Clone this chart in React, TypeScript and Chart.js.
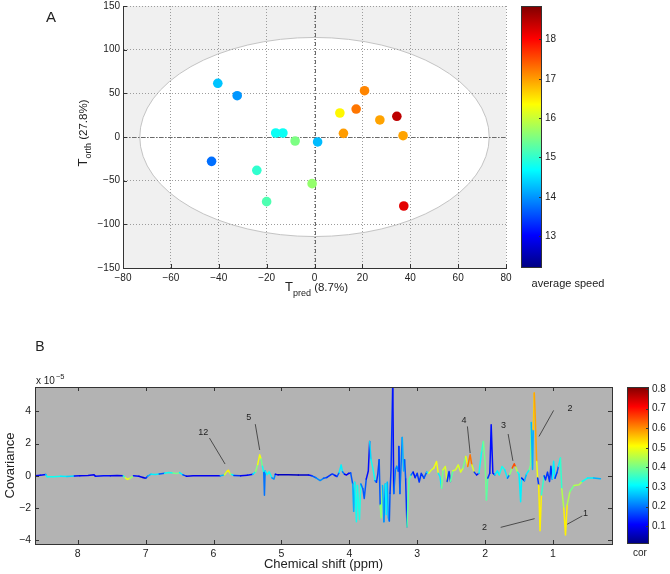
import React, { useEffect, useRef } from "react";
import { Chart, registerables } from "chart.js";

Chart.register(...registerables);

const FONT = "'Liberation Sans', Arial, Helvetica, sans-serif";
const TEXT = "#222222";

// ---------------- Panel A : OPLS scores ----------------
const tPred = [-40.4, -32.3, -43.0, -24.1, -20.0, -16.2, -13.2, -8.1, -1.0, 1.3, 10.6, 12.1, 17.4, 20.9, 27.3, 34.4, 37.0, 37.3];
const tOrth = [61.5, 47.3, -27.9, -38.2, -74.0, 4.6, 4.6, -4.6, -53.4, -5.7, 27.5, 4.2, 32.0, 53.0, 19.5, 23.7, 1.5, -79.0];
const avgSpeed = [14.3, 14.0, 13.75, 15.0, 15.2, 14.75, 14.75, 15.5, 15.65, 14.25, 16.4, 17.0, 17.25, 17.15, 16.95, 18.45, 16.95, 18.2];
const xTicksA = [-80, -60, -40, -20, 0, 20, 40, 60, 80];
const yTicksA = [-150, -100, -50, 0, 50, 100, 150];
const speedTicks = [13, 14, 15, 16, 17, 18];
const speedRange = [12.19, 18.85];
const ellipseAxes = [73, 114];

// ---------------- Panel B : covariance spectrum ----------------
const shiftPpm = [
  8.63, 8.55, 8.47, 8.45, 8.35, 8.25, 8.16, 8.05, 7.97, 7.85, 7.76, 7.74, 7.62, 7.52, 7.42, 7.33, 7.30, 7.27, 7.23, 7.18,
  7.10, 7.04, 7.00, 6.97, 6.92, 6.86, 6.80, 6.72, 6.66, 6.60, 6.54, 6.50, 6.45, 6.40, 6.30, 6.20, 6.10, 6.00, 5.90, 5.84,
  5.80, 5.78, 5.76, 5.73, 5.70, 5.60, 5.50, 5.42, 5.38, 5.35, 5.32, 5.30, 5.28, 5.26, 5.25, 5.24, 5.21, 5.18, 5.14, 5.11,
  5.09, 5.05, 4.90, 4.75, 4.60, 4.55, 4.49, 4.43, 4.38, 4.33, 4.28, 4.25, 4.21, 4.18, 4.15, 4.12, 4.10, 4.07, 4.04, 4.01,
  3.98, 3.95, 3.935, 3.92, 3.895, 3.88, 3.85, 3.83, 3.80, 3.78, 3.75, 3.72, 3.70, 3.68, 3.65, 3.62, 3.60, 3.58, 3.56, 3.545,
  3.53, 3.51, 3.49, 3.47, 3.455, 3.44, 3.425, 3.41, 3.40, 3.385, 3.36, 3.345, 3.32, 3.30, 3.28, 3.27, 3.255, 3.24, 3.22, 3.20,
  3.185, 3.17, 3.15, 3.12, 3.09, 3.06, 3.03, 3.00, 2.97, 2.94, 2.90, 2.86, 2.83, 2.79, 2.755, 2.715, 2.69, 2.665, 2.64, 2.62,
  2.585, 2.56, 2.53, 2.51, 2.475, 2.435, 2.395, 2.36, 2.325, 2.285, 2.255, 2.22, 2.195, 2.16, 2.125, 2.09, 2.05, 2.025, 2.00, 1.98,
  1.96, 1.93, 1.91, 1.885, 1.855, 1.82, 1.79, 1.75, 1.71, 1.67, 1.64, 1.60, 1.57, 1.55, 1.52, 1.50, 1.476, 1.46, 1.42, 1.39,
  1.35, 1.33, 1.32, 1.30, 1.29, 1.275, 1.26, 1.24, 1.225, 1.21, 1.19, 1.17, 1.13, 1.11, 1.08, 1.05, 1.03, 1.01, 0.99, 0.97,
  0.94, 0.92, 0.89, 0.87, 0.84, 0.815, 0.79, 0.75, 0.69, 0.615, 0.57, 0.49, 0.40, 0.30,
];
// covariance in units of 1e-5
const covariance = [
  0.00, 0.03, 0.08, -0.06, -0.05, -0.03, -0.04, -0.01, 0.00, 0.02, 0.07, -0.03, 0.01, 0.00, 0.02, 0.00, -0.12, -0.22, -0.15, 0.00,
  -0.02, -0.10, -0.15, -0.02, 0.10, 0.08, 0.12, 0.16, 0.21, 0.18, 0.15, 0.20, 0.06, -0.02, 0.00, 0.00, 0.01, 0.00, 0.01, 0.05,
  0.28, 0.35, 0.15, 0.08, 0.02, 0.00, 0.03, 0.10, 0.25, 0.70, 1.30, 1.05, 0.60, 0.20, -1.20, 0.30, 0.08, 0.25, -0.12, -0.20,
  0.10, 0.06, 0.06, 0.05, 0.05, 0.00, -0.12, -0.29, -0.15, -0.10, 0.05, 0.12, 0.02, -0.04, 0.20, 0.68, 0.25, 0.10, 0.05, 0.15,
  0.18, -0.50, -2.20, -0.40, -2.84, -0.60, -2.70, -0.50, -0.80, -1.40, -0.20, 0.30, 2.13, 1.00, 0.40, -0.30, -0.40, 0.10, 1.00, -1.80,
  -2.60, -0.60, -2.84, -0.50, -2.40, -0.40, -2.60, -2.80, -1.08, 0.40, 5.80, -1.10, 0.40, 0.60, 0.30, 1.82, -1.10, 0.40, 2.38, 0.30,
  1.00, -0.20, -3.15, -0.25, 0.05, 0.23, -0.11, 0.16, -0.39, 0.16, -0.14, 0.23, 0.16, 0.37, 0.48, 0.89, 0.16, -0.04, -0.77, 0.37,
  0.58, -0.35, 0.27, -0.35, 0.31, 0.37, 0.68, 0.23, 0.48, 1.20, 0.58, 1.30, 0.68, 0.23, 0.06, 0.16, 1.51, 2.13, 0.89, -1.50,
  -0.14, 0.16, 3.17, 0.16, 0.06, 0.31, 0.06, 0.58, 0.37, -0.14, 0.06, 0.48, 0.75, 0.55, 0.23, 0.10, -1.60, -0.14, -0.30, 0.10,
  0.37, 0.68, 3.30, 0.40, 2.86, 5.13, 3.60, 0.89, -0.14, -0.56, -3.40, -1.18, 0.00, -0.25, 0.23, -0.35, 0.60, -0.20, 0.90, -0.15,
  0.20, 0.58, 1.10, -0.80, -2.00, -3.66, -1.80, -0.97, -0.60, -0.55, -0.35, -0.14, -0.14, -0.18,
];
const correlation = [
  0.08, 0.10, 0.12, 0.30, 0.32, 0.30, 0.28, 0.12, 0.08, 0.10, 0.08, 0.10, 0.12, 0.10, 0.08, 0.10, 0.35, 0.50, 0.42, 0.12,
  0.10, 0.06, 0.08, 0.15, 0.25, 0.30, 0.12, 0.18, 0.32, 0.28, 0.40, 0.30, 0.15, 0.08, 0.10, 0.08, 0.10, 0.08, 0.10, 0.25,
  0.48, 0.52, 0.42, 0.30, 0.15, 0.10, 0.10, 0.12, 0.30, 0.42, 0.50, 0.40, 0.32, 0.20, 0.12, 0.20, 0.30, 0.32, 0.20, 0.22,
  0.10, 0.06, 0.06, 0.06, 0.07, 0.12, 0.18, 0.22, 0.18, 0.15, 0.12, 0.15, 0.12, 0.10, 0.18, 0.30, 0.20, 0.10, 0.08, 0.10,
  0.12, 0.18, 0.25, 0.20, 0.32, 0.25, 0.33, 0.20, 0.15, 0.18, 0.12, 0.10, 0.12, 0.28, 0.32, 0.20, 0.15, 0.12, 0.15, 0.18,
  0.42, 0.25, 0.22, 0.18, 0.30, 0.22, 0.25, 0.18, 0.12, 0.15, 0.10, 0.12, 0.20, 0.22, 0.18, 0.15, 0.12, 0.20, 0.15, 0.25,
  0.18, 0.15, 0.12, 0.38, 0.20, 0.12, 0.10, 0.15, 0.15, 0.12, 0.15, 0.18, 0.30, 0.48, 0.40, 0.50, 0.30, 0.15, 0.30, 0.40,
  0.48, 0.15, 0.15, 0.15, 0.38, 0.48, 0.32, 0.48, 0.40, 0.32, 0.50, 0.62, 0.48, 0.15, 0.06, 0.12, 0.32, 0.35, 0.40, 0.38,
  0.15, 0.12, 0.12, 0.12, 0.05, 0.30, 0.10, 0.32, 0.30, 0.15, 0.20, 0.42, 0.65, 0.45, 0.32, 0.15, 0.30, 0.12, 0.08, 0.25,
  0.30, 0.40, 0.15, 0.25, 0.18, 0.55, 0.58, 0.50, 0.15, 0.06, 0.52, 0.35, 0.15, 0.08, 0.15, 0.06, 0.15, 0.08, 0.30, 0.08,
  0.15, 0.18, 0.30, 0.35, 0.45, 0.52, 0.45, 0.32, 0.40, 0.45, 0.32, 0.30, 0.25, 0.22,
];
const shiftTicks = [1, 2, 3, 4, 5, 6, 7, 8];
const covTicks = [-4, -2, 0, 2, 4];
const corTicks = [0.1, 0.2, 0.3, 0.4, 0.5, 0.6, 0.7, 0.8];
const shiftRange = [0.13, 8.63];
const covRange = [-4.22, 5.5];
const corRange = [0.01, 0.81];

// peak annotations
const annLabels = ["12", "5", "4", "3", "2", "2", "1"];
const annTextPpm = [6.15, 5.48, 2.31, 1.73, 2.01, 0.75, 0.52];
const annTextCov = [2.7, 3.58, 3.42, 3.1, -3.17, 4.18, -2.34];
const annFromPpm = [6.06, 5.385, 2.26, 1.66, 1.77, 0.99, 0.567];
const annFromCov = [2.34, 3.2, 3.06, 2.59, -3.19, 4.05, -2.48];
const annToPpm = [5.83, 5.32, 2.22, 1.59, 1.27, 1.205, 0.79];
const annToCov = [0.73, 1.6, 1.41, 0.93, -2.65, 2.44, -3.0];

// ---------------- helpers ----------------
function jet(t: number): string {
  const tt = Math.max(0, Math.min(1, t));
  const c = (v: number) => Math.round(255 * Math.max(0, Math.min(1, v)));
  return `rgb(${c(1.5 - Math.abs(4 * tt - 3))},${c(1.5 - Math.abs(4 * tt - 2))},${c(1.5 - Math.abs(4 * tt - 1))})`;
}
const fmtNum = (v: number) => (v < 0 ? "\u2212" + Math.abs(v) : String(v));

type Part = { text: string; size: number; dy?: number };
function drawRich(ctx: CanvasRenderingContext2D, parts: Part[], x: number, y: number, rotate: boolean) {
  ctx.save();
  ctx.translate(x, y);
  if (rotate) ctx.rotate(-Math.PI / 2);
  const widths = parts.map((p) => {
    ctx.font = `${p.size}px ${FONT}`;
    return ctx.measureText(p.text).width;
  });
  const total = widths.reduce((a, b) => a + b, 0);
  let cx = -total / 2;
  ctx.textAlign = "left";
  ctx.textBaseline = "alphabetic";
  ctx.fillStyle = TEXT;
  parts.forEach((p, i) => {
    ctx.font = `${p.size}px ${FONT}`;
    ctx.fillText(p.text, cx, p.dy || 0);
    cx += widths[i];
  });
  ctx.restore();
}

function drawColorbar(chart: any, offset: number, width: number) {
  const { ctx, chartArea: a } = chart;
  const cb = chart.scales.cb;
  const x0 = Math.round(a.right + offset);
  const top = a.top;
  const bottom = a.bottom;
  ctx.save();
  const g = ctx.createLinearGradient(0, bottom, 0, top);
  for (let i = 0; i <= 40; i++) g.addColorStop(i / 40, jet(i / 40));
  ctx.fillStyle = g;
  ctx.fillRect(x0, top, width, bottom - top);
  ctx.strokeStyle = "#333";
  ctx.lineWidth = 1;
  ctx.strokeRect(x0 + 0.5, top + 0.5, width - 1, bottom - top - 1);
  cb.ticks.forEach((t: any) => {
    const py = Math.round(cb.getPixelForValue(t.value)) + 0.5;
    ctx.beginPath();
    ctx.moveTo(x0 + width - 3, py);
    ctx.lineTo(x0 + width, py);
    ctx.stroke();
  });
  ctx.restore();
}

const tickFont = (size: number) => ({ family: FONT, size });
const noPad = (s: any) => {
  s.paddingTop = 0;
  s.paddingBottom = 0;
};

// ---------------- Panel A config ----------------
function configA(): any {
  const plugin = {
    id: "panelA",
    beforeDraw(chart: any) {
      const { ctx, chartArea: a, scales } = chart;
      const x = scales.x;
      const y = scales.y;
      ctx.save();
      ctx.fillStyle = "#f0f0f0";
      ctx.fillRect(a.left, a.top, a.right - a.left, a.bottom - a.top);
      const cx = x.getPixelForValue(0);
      const cy = y.getPixelForValue(0);
      const rx = Math.abs(x.getPixelForValue(ellipseAxes[0]) - cx);
      const ry = Math.abs(y.getPixelForValue(ellipseAxes[1]) - cy);
      ctx.beginPath();
      ctx.ellipse(cx, cy, rx, ry, 0, 0, Math.PI * 2);
      ctx.fillStyle = "#ffffff";
      ctx.fill();
      ctx.strokeStyle = "#c4c4c4";
      ctx.lineWidth = 1;
      ctx.stroke();
      ctx.restore();
    },
    beforeDatasetsDraw(chart: any) {
      const { ctx, chartArea: a, scales } = chart;
      const x = scales.x;
      const y = scales.y;
      ctx.save();
      ctx.strokeStyle = "#6a6a6a";
      ctx.lineWidth = 1;
      ctx.setLineDash([4, 2, 1, 2]);
      const zx = Math.round(x.getPixelForValue(0)) + 0.5;
      const zy = Math.round(y.getPixelForValue(0)) + 0.5;
      ctx.beginPath();
      ctx.moveTo(zx, a.top);
      ctx.lineTo(zx, a.bottom);
      ctx.moveTo(a.left, zy);
      ctx.lineTo(a.right, zy);
      ctx.stroke();
      ctx.setLineDash([]);
      ctx.strokeStyle = "#333";
      ctx.beginPath();
      x.ticks.forEach((t: any) => {
        const px = Math.round(x.getPixelForValue(t.value)) + 0.5;
        ctx.moveTo(px, a.bottom);
        ctx.lineTo(px, a.bottom - 4);
      });
      y.ticks.forEach((t: any) => {
        const py = Math.round(y.getPixelForValue(t.value)) + 0.5;
        ctx.moveTo(a.left, py);
        ctx.lineTo(a.left + 4, py);
      });
      ctx.stroke();
      ctx.restore();
    },
    afterDraw(chart: any) {
      const { ctx, chartArea: a } = chart;
      drawColorbar(chart, 15, 21);
      ctx.save();
      ctx.fillStyle = TEXT;
      ctx.font = `15px ${FONT}`;
      ctx.textAlign = "center";
      ctx.textBaseline = "middle";
      ctx.fillText("A", 51, 18);
      ctx.font = `11px ${FONT}`;
      ctx.fillText("average speed", a.right + 62, 284);
      ctx.restore();
      drawRich(ctx, [
        { text: "T", size: 13 },
        { text: "orth", size: 9, dy: 4 },
        { text: " (27.8%)", size: 11.5 },
      ], 87, (a.top + a.bottom) / 2 - 4, true);
      drawRich(ctx, [
        { text: "T", size: 13 },
        { text: "pred", size: 9, dy: 5 },
        { text: " (8.7%)", size: 11.5 },
      ], (a.left + a.right) / 2 + 2, 291, false);
    },
  };

  return {
    type: "scatter",
    data: {
      datasets: [
        {
          data: tPred.map((v, i) => ({ x: v, y: tOrth[i] })),
          pointRadius: 4.8,
          pointHoverRadius: 4.8,
          pointBorderWidth: 0,
          pointBackgroundColor: avgSpeed.map((s) => jet((s - speedRange[0]) / (speedRange[1] - speedRange[0]))),
        },
      ],
    },
    options: {
      animation: false,
      responsive: false,
      maintainAspectRatio: false,
      devicePixelRatio: 1,
      events: [],
      layout: { padding: { left: 0, right: 0, top: 6, bottom: 0 } },
      plugins: { legend: { display: false }, tooltip: { enabled: false } },
      scales: {
        x: {
          type: "linear",
          min: xTicksA[0],
          max: xTicksA[xTicksA.length - 1],
          afterBuildTicks: (s: any) => { s.ticks = xTicksA.map((v) => ({ value: v })); },
          afterFit: (s: any) => { s.height = 32; s.paddingLeft = 0; s.paddingRight = 0; },
          grid: { color: "#9c9c9c", lineWidth: 1, drawTicks: false },
          border: { display: true, color: "#333", width: 1, dash: [1, 2] },
          ticks: { padding: 4, color: TEXT, font: tickFont(10), autoSkip: false, maxRotation: 0, callback: (v: number) => fmtNum(v) },
        },
        y: {
          type: "linear",
          min: yTicksA[0],
          max: yTicksA[yTicksA.length - 1],
          afterBuildTicks: (s: any) => { s.ticks = yTicksA.map((v) => ({ value: v })); },
          afterFit: (s: any) => { s.width = 123; noPad(s); },
          grid: { color: "#9c9c9c", lineWidth: 1, drawTicks: false },
          border: { display: true, color: "#333", width: 1, dash: [1, 2] },
          ticks: { padding: 3, color: TEXT, font: tickFont(10), autoSkip: false, callback: (v: number) => fmtNum(v) },
        },
        cb: {
          type: "linear",
          position: "right",
          min: speedRange[0],
          max: speedRange[1],
          afterBuildTicks: (s: any) => { s.ticks = speedTicks.map((v) => ({ value: v })); },
          afterFit: (s: any) => { s.width = 164; noPad(s); },
          grid: { display: false, drawTicks: false },
          border: { display: false },
          ticks: { padding: 39, color: TEXT, font: tickFont(10), autoSkip: false, callback: (v: number) => String(v) },
        },
      },
    },
    plugins: [plugin],
  };
}

// ---------------- Panel B config ----------------
function configB(): any {
  const corT = (c: number) => (c - corRange[0]) / (corRange[1] - corRange[0]);
  const plugin = {
    id: "panelB",
    beforeDraw(chart: any) {
      const { ctx, chartArea: a } = chart;
      ctx.save();
      ctx.fillStyle = "#b3b3b3";
      ctx.fillRect(a.left, a.top, a.right - a.left, a.bottom - a.top);
      ctx.restore();
    },
    afterDatasetsDraw(chart: any) {
      const { ctx, chartArea: a, scales } = chart;
      const x = scales.x;
      const y = scales.y;
      ctx.save();
      ctx.strokeStyle = "#333";
      ctx.lineWidth = 1;
      ctx.strokeRect(Math.round(a.left) + 0.5, Math.round(a.top) + 0.5, Math.round(a.right - a.left), Math.round(a.bottom - a.top));
      ctx.beginPath();
      x.ticks.forEach((t: any) => {
        const px = Math.round(x.getPixelForValue(t.value)) + 0.5;
        ctx.moveTo(px, a.bottom);
        ctx.lineTo(px, a.bottom - 4);
        ctx.moveTo(px, a.top);
        ctx.lineTo(px, a.top + 4);
      });
      y.ticks.forEach((t: any) => {
        const py = Math.round(y.getPixelForValue(t.value)) + 0.5;
        ctx.moveTo(a.left, py);
        ctx.lineTo(a.left + 4, py);
        ctx.moveTo(a.right, py);
        ctx.lineTo(a.right - 4, py);
      });
      ctx.stroke();

      // annotations
      ctx.strokeStyle = "#303030";
      ctx.lineWidth = 0.8;
      ctx.beginPath();
      annLabels.forEach((_, i) => {
        ctx.moveTo(x.getPixelForValue(annFromPpm[i]), y.getPixelForValue(annFromCov[i]));
        ctx.lineTo(x.getPixelForValue(annToPpm[i]), y.getPixelForValue(annToCov[i]));
      });
      ctx.stroke();
      ctx.fillStyle = TEXT;
      ctx.font = `9px ${FONT}`;
      ctx.textAlign = "center";
      ctx.textBaseline = "middle";
      annLabels.forEach((lab, i) => {
        ctx.fillText(lab, x.getPixelForValue(annTextPpm[i]), y.getPixelForValue(annTextCov[i]));
      });
      ctx.restore();
    },
    afterDraw(chart: any) {
      const { ctx, chartArea: a } = chart;
      drawColorbar(chart, 15, 22);
      ctx.save();
      ctx.fillStyle = TEXT;
      ctx.textAlign = "center";
      ctx.textBaseline = "middle";
      ctx.font = `14px ${FONT}`;
      ctx.fillText("B", 40, 17);
      ctx.font = `10px ${FONT}`;
      ctx.fillText("cor", a.right + 28, a.bottom + 9);
      ctx.font = `13px ${FONT}`;
      ctx.fillText("Chemical shift (ppm)", (a.left + a.right) / 2, a.bottom + 20);
      ctx.translate(10, (a.top + a.bottom) / 2);
      ctx.rotate(-Math.PI / 2);
      ctx.fillText("Covariance", 0, 0);
      ctx.restore();
      ctx.save();
      ctx.fillStyle = TEXT;
      ctx.textAlign = "left";
      ctx.textBaseline = "alphabetic";
      ctx.font = `10px ${FONT}`;
      ctx.fillText("x 10", 36, a.top - 3);
      const w = ctx.measureText("x 10").width;
      ctx.font = `7.5px ${FONT}`;
      ctx.fillText("\u22125", 36 + w + 1, a.top - 8);
      ctx.restore();
    },
  };

  return {
    type: "line",
    data: {
      datasets: [
        {
          data: shiftPpm.map((v, i) => ({ x: v, y: covariance[i] })),
          borderWidth: 1.5,
          borderColor: jet(0.1),
          borderJoinStyle: "round",
          borderCapStyle: "round",
          pointRadius: 0,
          pointHoverRadius: 0,
          tension: 0,
          fill: false,
          segment: {
            borderColor: (c: any) => jet(corT(Math.max(correlation[c.p0DataIndex], correlation[c.p1DataIndex]))),
          },
        },
      ],
    },
    options: {
      animation: false,
      responsive: false,
      maintainAspectRatio: false,
      devicePixelRatio: 1,
      events: [],
      layout: { padding: { left: 0, right: 0, top: 57, bottom: 0 } },
      plugins: { legend: { display: false }, tooltip: { enabled: false } },
      scales: {
        x: {
          type: "linear",
          reverse: true,
          min: shiftRange[0],
          max: shiftRange[1],
          afterBuildTicks: (s: any) => { s.ticks = shiftTicks.map((v) => ({ value: v })); },
          afterFit: (s: any) => { s.height = 30; s.paddingLeft = 0; s.paddingRight = 0; },
          grid: { display: false, drawTicks: false },
          border: { display: false },
          ticks: { padding: 4, color: TEXT, font: tickFont(10.5), autoSkip: false, maxRotation: 0, callback: (v: number) => String(v) },
        },
        y: {
          type: "linear",
          min: covRange[0],
          max: covRange[1],
          afterBuildTicks: (s: any) => { s.ticks = covTicks.map((v) => ({ value: v })); },
          afterFit: (s: any) => { s.width = 35; noPad(s); },
          grid: { display: false, drawTicks: false },
          border: { display: false },
          ticks: { padding: 4, color: TEXT, font: tickFont(10.5), autoSkip: false, callback: (v: number) => fmtNum(v) },
        },
        cb: {
          type: "linear",
          position: "right",
          min: corRange[0],
          max: corRange[1],
          afterBuildTicks: (s: any) => { s.ticks = corTicks.map((v) => ({ value: v })); },
          afterFit: (s: any) => { s.width = 58; noPad(s); },
          grid: { display: false, drawTicks: false },
          border: { display: false },
          ticks: { padding: 40, color: TEXT, font: tickFont(10), autoSkip: false, callback: (v: number) => v.toFixed(1) },
        },
      },
    },
    plugins: [plugin],
  };
}

export default function App() {
  const refA = useRef<HTMLCanvasElement>(null);
  const refB = useRef<HTMLCanvasElement>(null);
  useEffect(() => {
    const a = new Chart(refA.current as HTMLCanvasElement, configA());
    const b = new Chart(refB.current as HTMLCanvasElement, configB());
    return () => {
      a.destroy();
      b.destroy();
    };
  }, []);
  return (
    <div style={{ position: "absolute", left: 0, top: 0, width: 670, height: 574, background: "#ffffff", overflow: "hidden" }}>
      <canvas ref={refA} width={670} height={300} style={{ position: "absolute", left: 0, top: 0, width: 670, height: 300 }} />
      <canvas ref={refB} width={670} height={244} style={{ position: "absolute", left: 0, top: 330, width: 670, height: 244 }} />
    </div>
  );
}
